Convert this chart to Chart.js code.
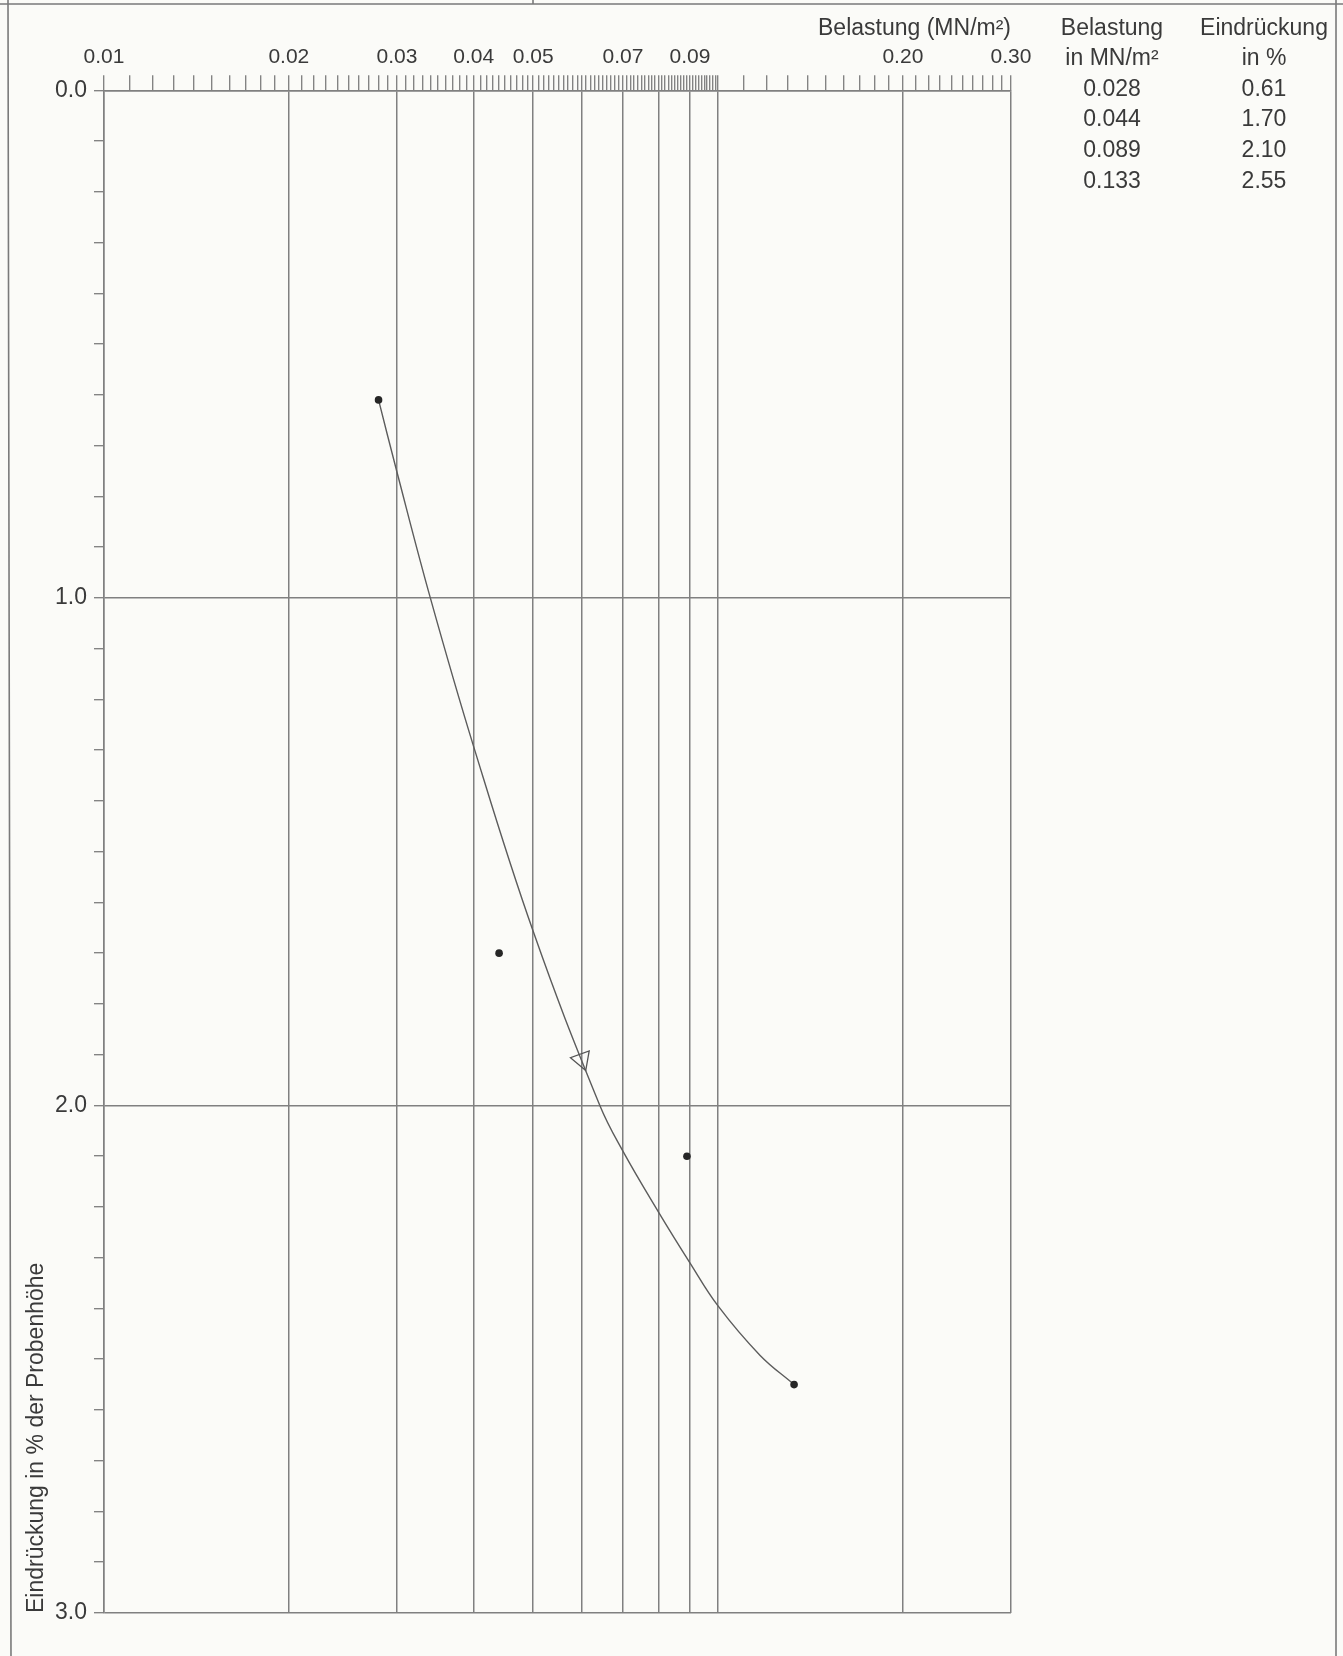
<!DOCTYPE html>
<html>
<head>
<meta charset="utf-8">
<title>Belastung – Eindrückung</title>
<script src="https://cdn.jsdelivr.net/npm/chart.js@4.4.1/dist/chart.umd.min.js"></script>
<style>
  html, body { margin: 0; padding: 0; background: #fbfbf8; }
  #wrap { position: relative; width: 1343px; height: 1656px; }
  canvas { display: block; }
</style>
</head>
<body>
<div id="wrap"><canvas id="c" width="1343" height="1656"></canvas></div>
<script>
// Measured loads (MN/m²) and indentation (% of specimen height)
const loadValues   = [0.028, 0.044, 0.089, 0.133];
const indentValues = [0.61, 1.70, 2.10, 2.55];

// Fitted loading curve, sampled along its path
const curveLoads   = [0.028, 0.030, 0.034, 0.040, 0.050, 0.0642, 0.070, 0.080, 0.090, 0.100, 0.117, 0.133];
const curveIndents = [0.61, 0.752, 1.00, 1.293, 1.657, 2.00, 2.09, 2.21, 2.31, 2.395, 2.492, 2.55];

// Direction arrow sitting on the curve
const arrowLoads   = [0.060];
const arrowIndents = [1.91];

// Axis ruling and labels
const xGridValues = [0.01, 0.02, 0.03, 0.04, 0.05, 0.06, 0.07, 0.08, 0.09, 0.1, 0.2, 0.3];
const xTickLabels = ['0.01', '0.02', '0.03', '0.04', '0.05', '0.07', '0.09', '0.20', '0.30'];
const yTickLabels = ['0.0', '1.0', '2.0', '3.0'];
const xTitle = 'Belastung (MN/m²)';
const yTitle = 'Eindrückung in % der Probenhöhe';

// Table headings
const tableHeadLoad   = ['Belastung', 'in MN/m²'];
const tableHeadIndent = ['Eindrückung', 'in %'];

// Fine ruling of the load axis: 0.001 steps up to 0.1, then 0.01 steps
const xMinorTicks = [];
for (let i = 10; i <= 100; i++) xMinorTicks.push(i / 1000);
for (let i = 11; i <= 30; i++) xMinorTicks.push(i / 100);
// 0.1 % steps on the indentation axis
const yMinorTicks = [];
for (let i = 0; i <= 30; i++) yMinorTicks.push(i / 10);

const FONT = '"Liberation Sans", Arial, Helvetica, sans-serif';
const textColor = '#3a3a3a';
const gridColor = '#808080';
const tickColor = '#666666';
const clear = 'rgba(0,0,0,0)';

const near = (a, b) => Math.abs(a - b) < 1e-7;
const isXGrid = v => xGridValues.some(g => near(g, v));
const xLabel = v => { const l = xTickLabels.find(t => near(parseFloat(t), v)); return l || ''; };
const yLabel = v => { const l = yTickLabels.find(t => near(parseFloat(t), v)); return l || ''; };

// Sheet background and frame lines
const framePlugin = {
  id: 'frame',
  beforeDraw(chart) {
    const ctx = chart.ctx;
    ctx.save();
    ctx.fillStyle = '#fbfbf8';
    ctx.fillRect(0, 0, chart.width, chart.height);
    ctx.strokeStyle = '#7a7a7a';
    ctx.lineWidth = 1.6;
    ctx.beginPath();
    ctx.moveTo(0, 4); ctx.lineTo(chart.width, 4);
    ctx.moveTo(8, 0); ctx.lineTo(11, chart.height);
    ctx.moveTo(1336, 0); ctx.lineTo(1336, chart.height);
    ctx.moveTo(533, 0); ctx.lineTo(533, 4);
    ctx.stroke();
    ctx.restore();
  }
};

// Vertical axis caption, starting at the bottom of the plot
const yTitlePlugin = {
  id: 'yTitle',
  afterDraw(chart) {
    const ctx = chart.ctx;
    ctx.save();
    ctx.translate(37, chart.chartArea.bottom);
    ctx.rotate(-Math.PI / 2);
    ctx.fillStyle = textColor;
    ctx.font = '23px ' + FONT;
    ctx.textAlign = 'left';
    ctx.textBaseline = 'middle';
    ctx.fillText(yTitle, 0, 0);
    ctx.restore();
  }
};

// Value table beside the plot
const tablePlugin = {
  id: 'valueTable',
  afterDraw(chart) {
    const ctx = chart.ctx;
    const colLoad = 1112, colIndent = 1264;
    const base0 = 34.5, step = 30.6;
    ctx.save();
    ctx.fillStyle = textColor;
    ctx.font = '23px ' + FONT;
    ctx.textAlign = 'center';
    ctx.textBaseline = 'alphabetic';
    tableHeadLoad.forEach((t, i) => ctx.fillText(t, colLoad, base0 + i * step));
    tableHeadIndent.forEach((t, i) => ctx.fillText(t, colIndent, base0 + i * step));
    loadValues.forEach((v, i) => {
      ctx.fillText(v.toFixed(3), colLoad, base0 + (i + 2) * step);
      ctx.fillText(indentValues[i].toFixed(2), colIndent, base0 + (i + 2) * step);
    });
    ctx.restore();
  }
};

new Chart(document.getElementById('c'), {
  type: 'scatter',
  data: {
    datasets: [
      {
        label: 'Kurve',
        data: curveLoads.map((x, i) => ({ x, y: curveIndents[i] })),
        showLine: true,
        borderColor: '#5c5c5c',
        borderWidth: 1.4,
        pointRadius: 0,
        tension: 0.4,
        order: 3
      },
      {
        label: 'Messwerte',
        data: loadValues.map((x, i) => ({ x, y: indentValues[i] })),
        showLine: false,
        pointRadius: 3.8,
        pointBackgroundColor: '#262626',
        pointBorderWidth: 0,
        order: 1
      },
      {
        label: 'Richtung',
        data: arrowLoads.map((x, i) => ({ x, y: arrowIndents[i] })),
        showLine: false,
        pointStyle: 'triangle',
        pointRadius: 11.5,
        rotation: 160,
        pointBackgroundColor: clear,
        pointBorderColor: '#555555',
        pointBorderWidth: 1.3,
        order: 2
      }
    ]
  },
  options: {
    responsive: false,
    animation: false,
    devicePixelRatio: 1,
    events: [],
    layout: { padding: { left: 48, right: 332, top: 3, bottom: 43 } },
    plugins: { legend: { display: false }, tooltip: { enabled: false } },
    scales: {
      x: {
        type: 'logarithmic',
        position: 'top',
        min: 0.01,
        max: 0.3,
        afterBuildTicks: s => { s.ticks = xMinorTicks.map(v => ({ value: v })); },
        ticks: {
          autoSkip: false, maxRotation: 0, minRotation: 0, padding: 5,
          color: textColor, font: { family: FONT, size: 21 },
          callback: v => xLabel(v)
        },
        grid: {
          drawOnChartArea: true, drawTicks: true,
          color: c => (c.tick && isXGrid(c.tick.value)) ? gridColor : clear,
          lineWidth: 1.5,
          tickColor: tickColor, tickWidth: 1.1, tickLength: 15
        },
        border: { display: true, color: gridColor, width: 1.5 },
        title: {
          display: true, text: xTitle, align: 'end',
          color: textColor, font: { family: FONT, size: 23 },
          padding: { top: 11.5, bottom: -2 }
        }
      },
      y: {
        type: 'linear',
        reverse: true,
        min: 0,
        max: 3,
        afterBuildTicks: s => { s.ticks = yMinorTicks.map(v => ({ value: v })); },
        ticks: {
          autoSkip: false, padding: 7,
          color: textColor, font: { family: FONT, size: 23 },
          callback: v => yLabel(v)
        },
        grid: {
          drawOnChartArea: true, drawTicks: true,
          color: c => (c.tick && near(c.tick.value, Math.round(c.tick.value))) ? gridColor : clear,
          lineWidth: 1.5,
          tickColor: tickColor, tickWidth: 1.1, tickLength: 10
        },
        border: { display: true, color: gridColor, width: 1.5 },
        title: { display: false }
      }
    }
  },
  plugins: [framePlugin, yTitlePlugin, tablePlugin]
});
</script>
</body>
</html>
